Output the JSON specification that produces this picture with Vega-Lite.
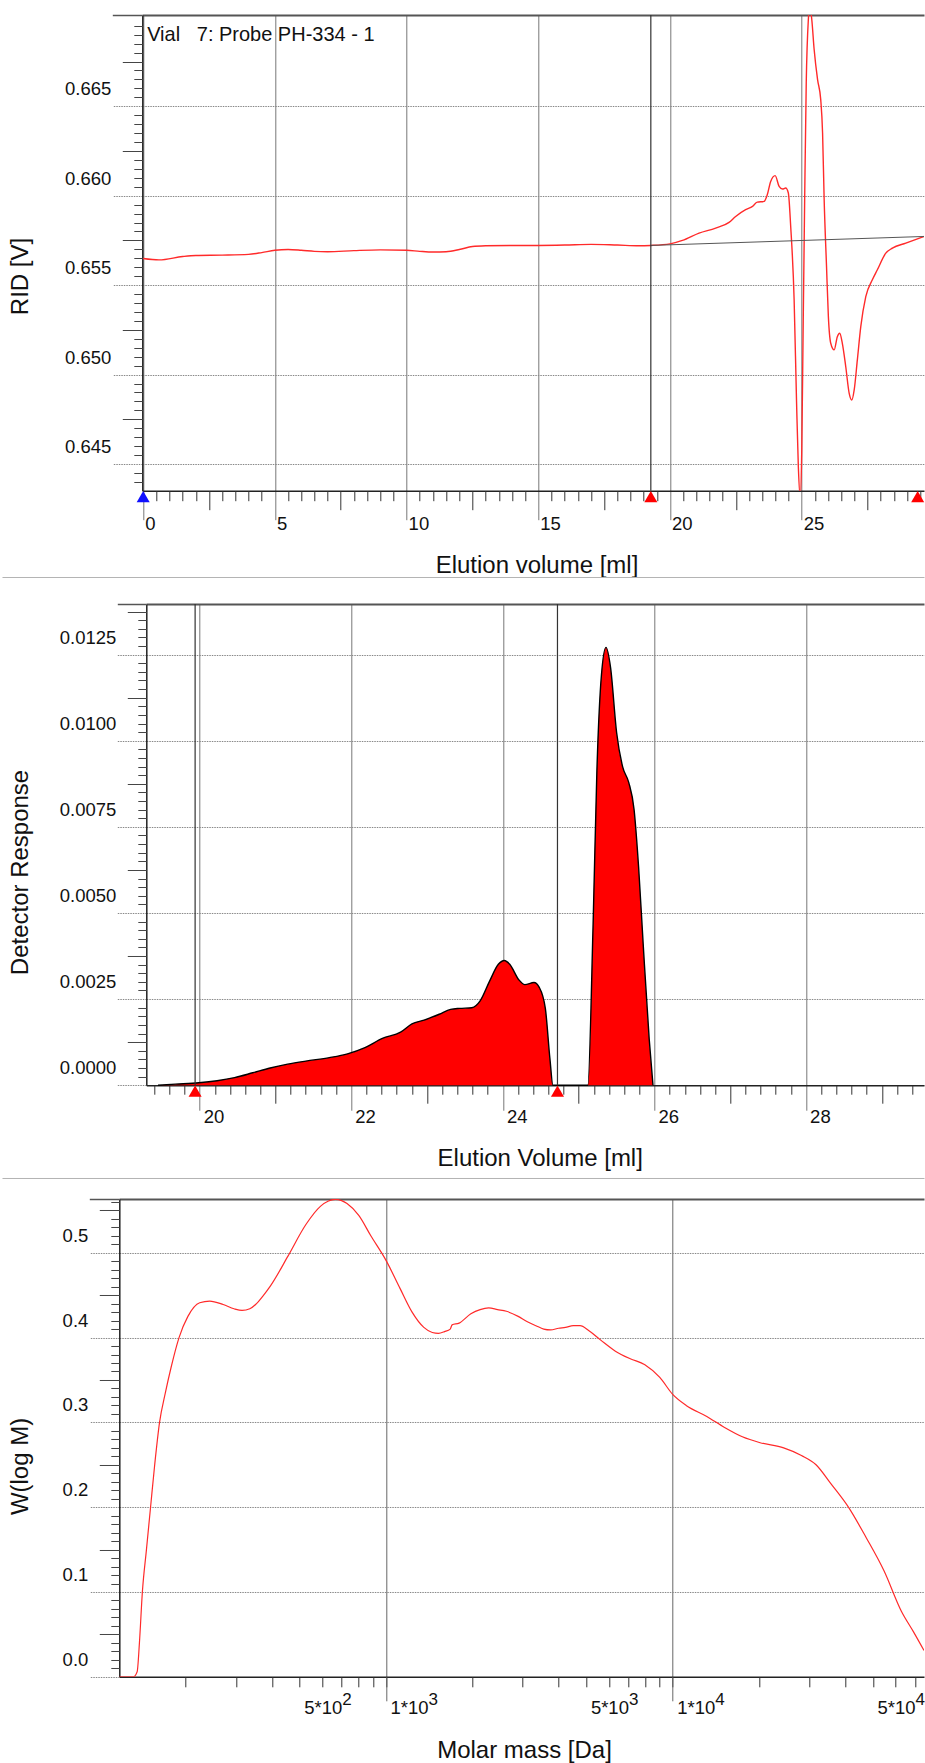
{
  "$schema": "https://vega.github.io/schema/vega-lite/v6.json",
  "background": "white",
  "padding": {"left": 8.3, "top": 14, "right": 0, "bottom": 0},
  "config": {
    "font": "Liberation Sans",
    "view": {"stroke": null},
    "axis": {"labelFont": "Liberation Sans", "titleFont": "Liberation Sans", "labelFontSize": 18.5, "titleFontSize": 24, "titleFontWeight": "normal", "labelColor": "#111", "titleColor": "#111", "labelFlush": false, "labelOverlap": false, "tickCap": "butt"}
  },
  "datasets": {
    "rid": [
      {"vol": 0, "rid": 0.65649}, {"vol": 0.6, "rid": 0.65641}, {"vol": 1.5, "rid": 0.6566}, {"vol": 2, "rid": 0.65666}, {"vol": 3, "rid": 0.65668}, {"vol": 4, "rid": 0.65672}, {"vol": 4.5, "rid": 0.65682}, {"vol": 5, "rid": 0.65695}, {"vol": 5.5, "rid": 0.65699}, {"vol": 6, "rid": 0.65695}, {"vol": 6.5, "rid": 0.65689}, {"vol": 7, "rid": 0.65687}, {"vol": 8, "rid": 0.65693}, {"vol": 9, "rid": 0.65697}, {"vol": 10, "rid": 0.65695}, {"vol": 10.5, "rid": 0.65689}, {"vol": 11, "rid": 0.65685}, {"vol": 11.5, "rid": 0.65687}, {"vol": 12, "rid": 0.65699}, {"vol": 12.5, "rid": 0.65716}, {"vol": 13, "rid": 0.6572}, {"vol": 14, "rid": 0.65722}, {"vol": 15, "rid": 0.65722}, {"vol": 16, "rid": 0.65724}, {"vol": 17, "rid": 0.65728}, {"vol": 18, "rid": 0.65724}, {"vol": 18.82, "rid": 0.6572}, {"vol": 19.27, "rid": 0.65722}, {"vol": 20, "rid": 0.65731}, {"vol": 20.47, "rid": 0.6575}, {"vol": 21.1, "rid": 0.65791}, {"vol": 21.73, "rid": 0.65819}, {"vol": 22.24, "rid": 0.65851}, {"vol": 22.49, "rid": 0.65884}, {"vol": 22.87, "rid": 0.65922}, {"vol": 23.13, "rid": 0.6594}, {"vol": 23.31, "rid": 0.65964}, {"vol": 23.57, "rid": 0.65968}, {"vol": 23.69, "rid": 0.66005}, {"vol": 23.82, "rid": 0.6608}, {"vol": 23.99, "rid": 0.66112}, {"vol": 24.14, "rid": 0.66052}, {"vol": 24.27, "rid": 0.66037}, {"vol": 24.39, "rid": 0.66043}, {"vol": 24.49, "rid": 0.66015}, {"vol": 24.58, "rid": 0.65828}, {"vol": 24.71, "rid": 0.65418}, {"vol": 24.8, "rid": 0.64858}, {"vol": 24.87, "rid": 0.64485}, {"vol": 24.94, "rid": 0.64317}, {"vol": 25.0, "rid": 0.64578}, {"vol": 25.05, "rid": 0.65231}, {"vol": 25.11, "rid": 0.65978}, {"vol": 25.17, "rid": 0.66631}, {"vol": 25.25, "rid": 0.66985}, {"vol": 25.3, "rid": 0.6706}, {"vol": 25.38, "rid": 0.66985}, {"vol": 25.47, "rid": 0.66817}, {"vol": 25.6, "rid": 0.66649}, {"vol": 25.72, "rid": 0.66537}, {"vol": 25.79, "rid": 0.66351}, {"vol": 25.85, "rid": 0.65978}, {"vol": 25.94, "rid": 0.65604}, {"vol": 26.01, "rid": 0.65324}, {"vol": 26.1, "rid": 0.65175}, {"vol": 26.23, "rid": 0.65138}, {"vol": 26.35, "rid": 0.65212}, {"vol": 26.44, "rid": 0.65231}, {"vol": 26.54, "rid": 0.65175}, {"vol": 26.67, "rid": 0.65044}, {"vol": 26.8, "rid": 0.64895}, {"vol": 26.9, "rid": 0.64858}, {"vol": 26.99, "rid": 0.64914}, {"vol": 27.11, "rid": 0.65082}, {"vol": 27.24, "rid": 0.65268}, {"vol": 27.43, "rid": 0.65436}, {"vol": 27.68, "rid": 0.6553}, {"vol": 27.87, "rid": 0.65586}, {"vol": 28.19, "rid": 0.65679}, {"vol": 28.44, "rid": 0.65707}, {"vol": 28.95, "rid": 0.65735}, {"vol": 29.64, "rid": 0.65772}
    ],
    "ridBase": [{"vol": 19.27, "rid": 0.65722}, {"vol": 29.64, "rid": 0.65772}],
    "ridMarks": [{"vol": 0, "kind": "start"}, {"vol": 19.27, "kind": "limit"}, {"vol": 29.4, "kind": "limit"}],
    "det": [
      {"vol": 19.45, "resp": 0}, {"vol": 19.68, "resp": 0.00003}, {"vol": 19.99, "resp": 0.00007}, {"vol": 20.23, "resp": 0.00013}, {"vol": 20.46, "resp": 0.00022}, {"vol": 20.7, "resp": 0.00036}, {"vol": 20.93, "resp": 0.0005}, {"vol": 21.16, "resp": 0.00061}, {"vol": 21.4, "resp": 0.0007}, {"vol": 21.71, "resp": 0.0008}, {"vol": 21.95, "resp": 0.00091}, {"vol": 22.18, "resp": 0.00109}, {"vol": 22.41, "resp": 0.00136}, {"vol": 22.65, "resp": 0.00154}, {"vol": 22.8, "resp": 0.00178}, {"vol": 22.96, "resp": 0.00189}, {"vol": 23.16, "resp": 0.00206}, {"vol": 23.31, "resp": 0.0022}, {"vol": 23.43, "resp": 0.00223}, {"vol": 23.59, "resp": 0.00225}, {"vol": 23.7, "resp": 0.00245}, {"vol": 23.82, "resp": 0.003}, {"vol": 23.94, "resp": 0.00351}, {"vol": 24.02, "resp": 0.00362}, {"vol": 24.09, "resp": 0.00351}, {"vol": 24.21, "resp": 0.00306}, {"vol": 24.29, "resp": 0.00292}, {"vol": 24.41, "resp": 0.00298}, {"vol": 24.48, "resp": 0.00284}, {"vol": 24.56, "resp": 0.00223}, {"vol": 24.62, "resp": 0.00078}, {"vol": 24.66, "resp": 0}, {"vol": 25.12, "resp": 0}, {"vol": 25.19, "resp": 0.00467}, {"vol": 25.24, "resp": 0.00913}, {"vol": 25.3, "resp": 0.01191}, {"vol": 25.36, "resp": 0.01271}, {"vol": 25.42, "resp": 0.01213}, {"vol": 25.5, "resp": 0.01024}, {"vol": 25.58, "resp": 0.00924}, {"vol": 25.66, "resp": 0.00879}, {"vol": 25.73, "resp": 0.00801}, {"vol": 25.79, "resp": 0.00634}, {"vol": 25.85, "resp": 0.00412}, {"vol": 25.93, "resp": 0.00134}, {"vol": 25.98, "resp": 0}
    ],
    "detMarks": [{"vol": 19.94, "kind": "limit"}, {"vol": 24.72, "kind": "limit"}],
    "mwd": [
      {"M": 117.4, "w": 0}, {"M": 131.5, "w": 0}, {"M": 135.5, "w": 0.006}, {"M": 138, "w": 0.04}, {"M": 141.3, "w": 0.1}, {"M": 146, "w": 0.15}, {"M": 150.9, "w": 0.2}, {"M": 156, "w": 0.25}, {"M": 162.2, "w": 0.3}, {"M": 170, "w": 0.335}, {"M": 178, "w": 0.365}, {"M": 189.7, "w": 0.4}, {"M": 203.7, "w": 0.425}, {"M": 223.9, "w": 0.441}, {"M": 242.7, "w": 0.443}, {"M": 270.4, "w": 0.439}, {"M": 295, "w": 0.434}, {"M": 314.8, "w": 0.432}, {"M": 335, "w": 0.434}, {"M": 350.8, "w": 0.439}, {"M": 372, "w": 0.449}, {"M": 395.4, "w": 0.461}, {"M": 455, "w": 0.496}, {"M": 524.8, "w": 0.533}, {"M": 591.6, "w": 0.555}, {"M": 630, "w": 0.561}, {"M": 665.3, "w": 0.563}, {"M": 700, "w": 0.5615}, {"M": 731.1, "w": 0.558}, {"M": 803.5, "w": 0.544}, {"M": 885.1, "w": 0.52}, {"M": 1000, "w": 0.491}, {"M": 1119, "w": 0.458}, {"M": 1233, "w": 0.43}, {"M": 1355, "w": 0.412}, {"M": 1450, "w": 0.406}, {"M": 1524, "w": 0.405}, {"M": 1600, "w": 0.407}, {"M": 1675, "w": 0.41}, {"M": 1700, "w": 0.415}, {"M": 1799, "w": 0.417}, {"M": 1977, "w": 0.428}, {"M": 2130, "w": 0.433}, {"M": 2280, "w": 0.435}, {"M": 2450, "w": 0.433}, {"M": 2630, "w": 0.431}, {"M": 2891, "w": 0.425}, {"M": 3100, "w": 0.419}, {"M": 3334, "w": 0.414}, {"M": 3550, "w": 0.41}, {"M": 3750, "w": 0.409}, {"M": 4000, "w": 0.411}, {"M": 4227, "w": 0.412}, {"M": 4500, "w": 0.414}, {"M": 4753, "w": 0.414}, {"M": 5105, "w": 0.408}, {"M": 5610, "w": 0.397}, {"M": 6310, "w": 0.384}, {"M": 7112, "w": 0.375}, {"M": 7998, "w": 0.368}, {"M": 9016, "w": 0.353}, {"M": 10000, "w": 0.333}, {"M": 11140, "w": 0.32}, {"M": 13150, "w": 0.307}, {"M": 15170, "w": 0.294}, {"M": 17500, "w": 0.283}, {"M": 20180, "w": 0.276}, {"M": 24380, "w": 0.27}, {"M": 28120, "w": 0.261}, {"M": 31620, "w": 0.25}, {"M": 35560, "w": 0.228}, {"M": 41020, "w": 0.2}, {"M": 47320, "w": 0.164}, {"M": 54580, "w": 0.125}, {"M": 62810, "w": 0.077}, {"M": 69180, "w": 0.053}, {"M": 75260, "w": 0.031}
    ],
    "note": [{"label": "Vial\u00a0\u00a0\u00a07: Probe PH-334 - 1"}]
  },
  "vconcat": [
    {
      "width": 804.7, "height": 475.7,
      "resolve": {"axis": {"x": "independent", "y": "independent"}},
      "layer": [
        {
          "data": {"name": "rid"},
          "mark": {"type": "line", "color": "#ff2a2a", "strokeWidth": 1.4, "clip": true, "interpolate": "monotone"},
          "encoding": {
            "x": {"field": "vol", "type": "quantitative", "scale": {"domain": [-0.034, 29.64], "range": [23, 804.7], "nice": false, "zero": false},
              "axis": {"orient": "bottom", "values": [0, 5, 10, 15, 20, 25], "domain": true, "domainColor": "#222", "domainWidth": 1.5, "ticks": true, "tickSize": 29, "tickColor": "#777", "tickWidth": 1, "grid": true, "gridColor": "#777", "gridWidth": 1, "labels": true, "labelAlign": "left", "labelBaseline": "top", "labelOffset": 1.5, "labelPadding": -5, "title": "Elution volume [ml]", "titleX": 417.2, "titleY": 74.3, "titleAlign": "center", "titleBaseline": "middle", "titleAngle": 0}},
            "y": {"field": "rid", "type": "quantitative", "scale": {"domain": [0.64351, 0.6701], "nice": false, "zero": false},
              "axis": {"orient": "left", "offset": -23, "values": [0.645, 0.65, 0.655, 0.66, 0.665], "domain": true, "domainColor": "#222", "domainWidth": 1.5, "tickSize": 30, "tickColor": "#888", "tickDash": [1.5, 1], "grid": true, "gridColor": "#888", "gridDash": [1.5, 1], "format": ".3f", "labelBaseline": "middle", "labelOffset": -17.5, "labelPadding": 1.5, "title": "RID [V]", "titleX": -121.3, "titleY": 261, "titleAngle": 270, "titleAlign": "center", "titleBaseline": "middle"}}
          }
        },
        {
          "data": {"name": "ridBase"},
          "mark": {"type": "line", "color": "#555", "strokeWidth": 1},
          "encoding": {
            "x": {"field": "vol", "type": "quantitative", "scale": {"domain": [-0.034, 29.64], "range": [23, 804.7], "nice": false, "zero": false},
              "axis": {"orient": "bottom", "values": [2.5, 7.5, 12.5, 17.5, 22.5, 27.5], "domain": false, "tickSize": 19, "tickColor": "#333", "labels": false, "grid": false, "title": null}},
            "y": {"field": "rid", "type": "quantitative", "scale": {"domain": [0.64351, 0.6701], "nice": false, "zero": false},
              "axis": {"orient": "left", "offset": -23, "values": [0.6475, 0.6525, 0.6575, 0.6625, 0.6675], "domain": false, "tickSize": 20, "tickColor": "#444", "labels": false, "grid": false, "title": null}}
          }
        },
        {
          "data": {"values": [{"vol": 19.27}]},
          "mark": {"type": "rule", "color": "#333", "strokeWidth": 1.2},
          "encoding": {
            "x": {"field": "vol", "type": "quantitative", "scale": {"domain": [-0.034, 29.64], "range": [23, 804.7], "nice": false, "zero": false},
              "axis": {"orient": "top", "domain": true, "domainColor": "#555", "domainWidth": 2, "ticks": false, "labels": false, "grid": false, "title": null}}
          }
        },
        {
          "data": {"name": "ridMarks"},
          "mark": {"type": "point", "shape": "triangle-up", "filled": true, "size": 170, "opacity": 1, "yOffset": 6, "clip": false},
          "encoding": {
            "x": {"field": "vol", "type": "quantitative", "scale": {"domain": [-0.034, 29.64], "range": [23, 804.7], "nice": false, "zero": false},
              "axis": {"orient": "bottom", "values": [0.5, 1, 1.5, 2, 3, 3.5, 4, 4.5, 5.5, 6, 6.5, 7, 8, 8.5, 9, 9.5, 10.5, 11, 11.5, 12, 13, 13.5, 14, 14.5, 15.5, 16, 16.5, 17, 18, 18.5, 19, 19.5, 20.5, 21, 21.5, 22, 23, 23.5, 24, 24.5, 25.5, 26, 26.5, 27, 28, 28.5, 29, 29.5], "domain": false, "tickSize": 10, "tickColor": "#333", "labels": false, "grid": false, "title": null}},
            "y": {"datum": 0.64351, "type": "quantitative", "scale": {"domain": [0.64351, 0.6701], "nice": false, "zero": false},
              "axis": {"orient": "left", "offset": -23, "values": [0.644, 0.6445, 0.6455, 0.646, 0.6465, 0.647, 0.648, 0.6485, 0.649, 0.6495, 0.6505, 0.651, 0.6515, 0.652, 0.653, 0.6535, 0.654, 0.6545, 0.6555, 0.656, 0.6565, 0.657, 0.658, 0.6585, 0.659, 0.6595, 0.6605, 0.661, 0.6615, 0.662, 0.663, 0.6635, 0.664, 0.6645, 0.6655, 0.666, 0.6665, 0.667, 0.668, 0.6685, 0.669, 0.6695], "domain": false, "tickSize": 8.5, "tickColor": "#444", "labels": false, "grid": false, "title": null}},
            "color": {"field": "kind", "type": "nominal", "scale": {"domain": ["start", "limit"], "range": ["#1010ff", "#ff0000"]}, "legend": null}
          }
        },
        {
          "data": {"name": "note"},
          "mark": {"type": "text", "align": "left", "baseline": "alphabetic", "fontSize": 20, "color": "#111", "font": "Liberation Sans"},
          "encoding": {
            "x": {"datum": 0.15, "type": "quantitative", "scale": {"domain": [-0.034, 29.64], "range": [23, 804.7], "nice": false, "zero": false}, "axis": null},
            "y": {"datum": 0.66867, "type": "quantitative", "scale": {"domain": [0.64351, 0.6701], "nice": false, "zero": false},
              "axis": {"orient": "left", "offset": -23, "values": [0.6701], "domain": false, "tickSize": 30, "tickColor": "#555", "tickWidth": 1.5, "labels": false, "grid": false, "title": null}},
            "text": {"field": "label"}
          }
        }
      ]
    },
    {
      "width": 804.7, "height": 25.5,
      "data": {"values": []},
      "mark": "point",
      "encoding": {"x": {"field": "v", "type": "quantitative", "scale": {"domain": [0, 1], "range": [-117.3, 804.7]}, "axis": {"orient": "top", "domain": true, "domainColor": "#b4b4b4", "domainWidth": 1, "ticks": false, "labels": false, "grid": false, "title": null}}}
    },
    {
      "width": 804.7, "height": 481.2,
      "resolve": {"axis": {"x": "independent", "y": "independent"}},
      "layer": [
        {
          "data": {"name": "det"},
          "mark": {"type": "area", "color": "#ff0000", "opacity": 1, "interpolate": "monotone"},
          "encoding": {
            "x": {"field": "vol", "type": "quantitative", "scale": {"domain": [19.296, 29.555], "range": [27, 804.7], "nice": false, "zero": false},
              "axis": {"orient": "bottom", "values": [20, 22, 24, 26, 28], "domain": true, "domainColor": "#222", "domainWidth": 1.5, "tickSize": 25, "tickColor": "#777", "grid": true, "gridColor": "#777", "gridWidth": 1, "labelAlign": "left", "labelBaseline": "top", "labelOffset": 3.5, "labelPadding": -3, "title": "Elution Volume [ml]", "titleX": 420.4, "titleY": 73.5, "titleAlign": "center", "titleBaseline": "middle", "titleAngle": 0}},
            "y": {"field": "resp", "type": "quantitative", "scale": {"domain": [0, 0.01397], "nice": false, "zero": false},
              "axis": {"orient": "left", "offset": -27, "values": [0, 0.0025, 0.005, 0.0075, 0.01, 0.0125], "domain": true, "domainColor": "#222", "domainWidth": 1.5, "tickSize": 29, "tickColor": "#888", "tickDash": [1.5, 1], "grid": true, "gridColor": "#888", "gridDash": [1.5, 1], "format": ".4f", "labelBaseline": "middle", "labelOffset": -17.5, "labelPadding": 1.5, "title": "Detector Response", "titleX": -125.3, "titleY": 268, "titleAngle": 270, "titleAlign": "center", "titleBaseline": "middle"}}
          }
        },
        {
          "data": {"name": "det"},
          "mark": {"type": "line", "color": "#000", "strokeWidth": 1.4, "interpolate": "monotone"},
          "encoding": {
            "x": {"field": "vol", "type": "quantitative", "scale": {"domain": [19.296, 29.555], "range": [27, 804.7], "nice": false, "zero": false},
              "axis": {"orient": "top", "domain": true, "domainColor": "#555", "domainWidth": 2, "ticks": false, "labels": false, "grid": false, "title": null}},
            "y": {"field": "resp", "type": "quantitative", "scale": {"domain": [0, 0.01397], "nice": false, "zero": false},
              "axis": {"orient": "left", "offset": -27, "values": [0.00125, 0.00375, 0.00625, 0.00875, 0.01125, 0.01375], "domain": false, "tickSize": 19, "tickColor": "#444", "labels": false, "grid": false, "title": null}}
          }
        },
        {
          "data": {"name": "detMarks"},
          "mark": {"type": "rule", "color": "#333", "strokeWidth": 1.2},
          "encoding": {
            "x": {"field": "vol", "type": "quantitative", "scale": {"domain": [19.296, 29.555], "range": [27, 804.7], "nice": false, "zero": false},
              "axis": {"orient": "bottom", "values": [21, 23, 25, 27, 29], "domain": false, "tickSize": 18, "tickColor": "#333", "labels": false, "grid": false, "title": null}}
          }
        },
        {
          "data": {"name": "detMarks"},
          "mark": {"type": "point", "shape": "triangle-up", "filled": true, "size": 170, "opacity": 1, "yOffset": 6, "clip": false},
          "encoding": {
            "x": {"field": "vol", "type": "quantitative", "scale": {"domain": [19.296, 29.555], "range": [27, 804.7], "nice": false, "zero": false},
              "axis": {"orient": "bottom", "values": [19.4, 19.6, 19.8, 20.2, 20.4, 20.6, 20.8, 21.2, 21.4, 21.6, 21.8, 22.2, 22.4, 22.6, 22.8, 23.2, 23.4, 23.6, 23.8, 24.2, 24.4, 24.6, 24.8, 25.2, 25.4, 25.6, 25.8, 26.2, 26.4, 26.6, 26.8, 27.2, 27.4, 27.6, 27.8, 28.2, 28.4, 28.6, 28.8, 29.2, 29.4], "domain": false, "tickSize": 9, "tickColor": "#333", "labels": false, "grid": false, "title": null}},
            "y": {"datum": 0, "type": "quantitative", "scale": {"domain": [0, 0.01397], "nice": false, "zero": false},
              "axis": {"orient": "left", "offset": -27, "values": [0.00025, 0.0005, 0.00075, 0.001, 0.0015, 0.00175, 0.002, 0.00225, 0.00275, 0.003, 0.00325, 0.0035, 0.004, 0.00425, 0.0045, 0.00475, 0.00525, 0.0055, 0.00575, 0.006, 0.0065, 0.00675, 0.007, 0.00725, 0.00775, 0.008, 0.00825, 0.0085, 0.009, 0.00925, 0.0095, 0.00975, 0.01025, 0.0105, 0.01075, 0.011, 0.0115, 0.01175, 0.012, 0.01225, 0.01275, 0.013, 0.01325, 0.0135], "domain": false, "tickSize": 8.5, "tickColor": "#444", "labels": false, "grid": false, "title": null}},
            "color": {"field": "kind", "type": "nominal", "scale": {"domain": ["start", "limit"], "range": ["#1010ff", "#ff0000"]}, "legend": null}
          }
        },
        {
          "data": {"name": "det"},
          "mark": {"type": "line", "strokeOpacity": 0},
          "encoding": {
            "x": {"field": "vol", "type": "quantitative", "scale": {"domain": [19.296, 29.555], "range": [27, 804.7], "nice": false, "zero": false}, "axis": null},
            "y": {"field": "resp", "type": "quantitative", "scale": {"domain": [0, 0.01397], "nice": false, "zero": false},
              "axis": {"orient": "left", "offset": -27, "values": [0.01397], "domain": false, "tickSize": 29, "tickColor": "#555", "tickWidth": 1.5, "labels": false, "grid": false, "title": null}}
          }
        }
      ]
    },
    {"width": 1, "height": 6.8, "data": {"values": []}, "mark": "point"},
    {
      "width": 804.7, "height": 19.6,
      "data": {"values": []},
      "mark": "point",
      "encoding": {"x": {"field": "v", "type": "quantitative", "scale": {"domain": [0, 1], "range": [-117.3, 804.7]}, "axis": {"orient": "top", "domain": true, "domainColor": "#b4b4b4", "domainWidth": 1, "ticks": false, "labels": false, "grid": false, "title": null}}}
    },
    {
      "width": 804.7, "height": 477.8,
      "resolve": {"axis": {"x": "independent", "y": "independent"}},
      "layer": [
        {
          "data": {"name": "mwd"},
          "mark": {"type": "line", "color": "#ff2a2a", "strokeWidth": 1.2, "clip": true, "interpolate": "monotone"},
          "encoding": {
            "x": {"field": "M", "type": "quantitative", "scale": {"type": "log", "domain": [117.4, 75260], "nice": false},
              "axis": {"orient": "bottom", "values": [500, 1000, 5000, 10000, 50000], "domain": true, "domainColor": "#222", "domainWidth": 1.5, "tickSize": 10, "tickColor": "#333", "grid": false, "labelExpr": "(datum.value < 700 || (datum.value > 4000 && datum.value < 7000) || datum.value > 40000) ? '5*10' : '1*10'", "labelAlign": "left", "labelBaseline": "top", "labelOffset": 4, "labelPadding": 12, "title": "Molar mass [Da]", "titleX": 404.7, "titleY": 73.6, "titleAlign": "center", "titleBaseline": "middle", "titleAngle": 0}},
            "y": {"field": "w", "type": "quantitative", "scale": {"domain": [0, 0.5634], "nice": false, "zero": false},
              "axis": {"orient": "left", "values": [0, 0.1, 0.2, 0.3, 0.4, 0.5], "domain": true, "domainColor": "#222", "domainWidth": 1.5, "tickSize": 30, "tickColor": "#888", "tickDash": [1.5, 1], "grid": true, "gridColor": "#888", "gridDash": [1.5, 1], "format": ".1f", "labelBaseline": "middle", "labelOffset": -17.5, "labelPadding": 1.5, "title": "W(log M)", "titleX": -98.3, "titleY": 267, "titleAngle": 270, "titleAlign": "center", "titleBaseline": "middle"}}
          }
        },
        {
          "data": {"name": "mwd"},
          "mark": {"type": "line", "strokeOpacity": 0},
          "encoding": {
            "x": {"field": "M", "type": "quantitative", "scale": {"type": "log", "domain": [117.4, 75260], "nice": false},
              "axis": {"orient": "bottom", "values": [500, 1000, 5000, 10000, 50000], "domain": false, "tickSize": 10, "tickOpacity": 0, "grid": false, "labelExpr": "datum.value < 700 ? '2' : datum.value < 7000 ? '3' : '4'", "labelFontSize": 17, "labelAlign": "left", "labelBaseline": "top", "labelOffset": 42, "labelPadding": 5, "title": null}},
            "y": {"field": "w", "type": "quantitative", "scale": {"domain": [0, 0.5634], "nice": false, "zero": false},
              "axis": {"orient": "left", "values": [0.05, 0.15, 0.25, 0.35, 0.45, 0.55], "domain": false, "tickSize": 20, "tickColor": "#444", "labels": false, "grid": false, "title": null}}
          }
        },
        {
          "data": {"name": "mwd"},
          "mark": {"type": "line", "strokeOpacity": 0},
          "encoding": {
            "x": {"field": "M", "type": "quantitative", "scale": {"type": "log", "domain": [117.4, 75260], "nice": false},
              "axis": {"orient": "bottom", "values": [1000, 10000], "domain": false, "tickSize": 24, "tickColor": "#666", "grid": true, "gridColor": "#666", "gridWidth": 1, "labels": false, "title": null}},
            "y": {"field": "w", "type": "quantitative", "scale": {"domain": [0, 0.5634], "nice": false, "zero": false},
              "axis": {"orient": "left", "values": [0.01, 0.02, 0.03, 0.04, 0.06, 0.07, 0.08, 0.09, 0.11, 0.12, 0.13, 0.14, 0.16, 0.17, 0.18, 0.19, 0.21, 0.22, 0.23, 0.24, 0.26, 0.27, 0.28, 0.29, 0.31, 0.32, 0.33, 0.34, 0.36, 0.37, 0.38, 0.39, 0.41, 0.42, 0.43, 0.44, 0.46, 0.47, 0.48, 0.49, 0.51, 0.52, 0.53, 0.54, 0.56], "domain": false, "tickSize": 8.5, "tickColor": "#444", "labels": false, "grid": false, "title": null}}
          }
        },
        {
          "data": {"name": "mwd"},
          "mark": {"type": "line", "strokeOpacity": 0},
          "encoding": {
            "x": {"field": "M", "type": "quantitative", "scale": {"type": "log", "domain": [117.4, 75260], "nice": false},
              "axis": {"orient": "bottom", "values": [200, 300, 400, 600, 700, 800, 900, 2000, 3000, 4000, 6000, 7000, 8000, 9000, 20000, 30000, 40000, 60000, 70000], "domain": false, "tickSize": 10, "tickColor": "#333", "labels": false, "grid": false, "title": null}},
            "y": {"field": "w", "type": "quantitative", "scale": {"domain": [0, 0.5634], "nice": false, "zero": false},
              "axis": {"orient": "left", "values": [0.5634], "domain": false, "tickSize": 30, "tickColor": "#555", "tickWidth": 1.5, "labels": false, "grid": false, "title": null}}
          }
        },
        {
          "data": {"name": "mwd"},
          "mark": {"type": "line", "strokeOpacity": 0},
          "encoding": {
            "x": {"field": "M", "type": "quantitative", "scale": {"type": "log", "domain": [117.4, 75260], "nice": false},
              "axis": {"orient": "top", "domain": true, "domainColor": "#555", "domainWidth": 2, "ticks": false, "labels": false, "grid": false, "title": null}},
            "y": {"field": "w", "type": "quantitative", "scale": {"domain": [0, 0.5634], "nice": false, "zero": false}, "axis": null}
          }
        }
      ]
    }
  ],
  "spacing": 0
}
